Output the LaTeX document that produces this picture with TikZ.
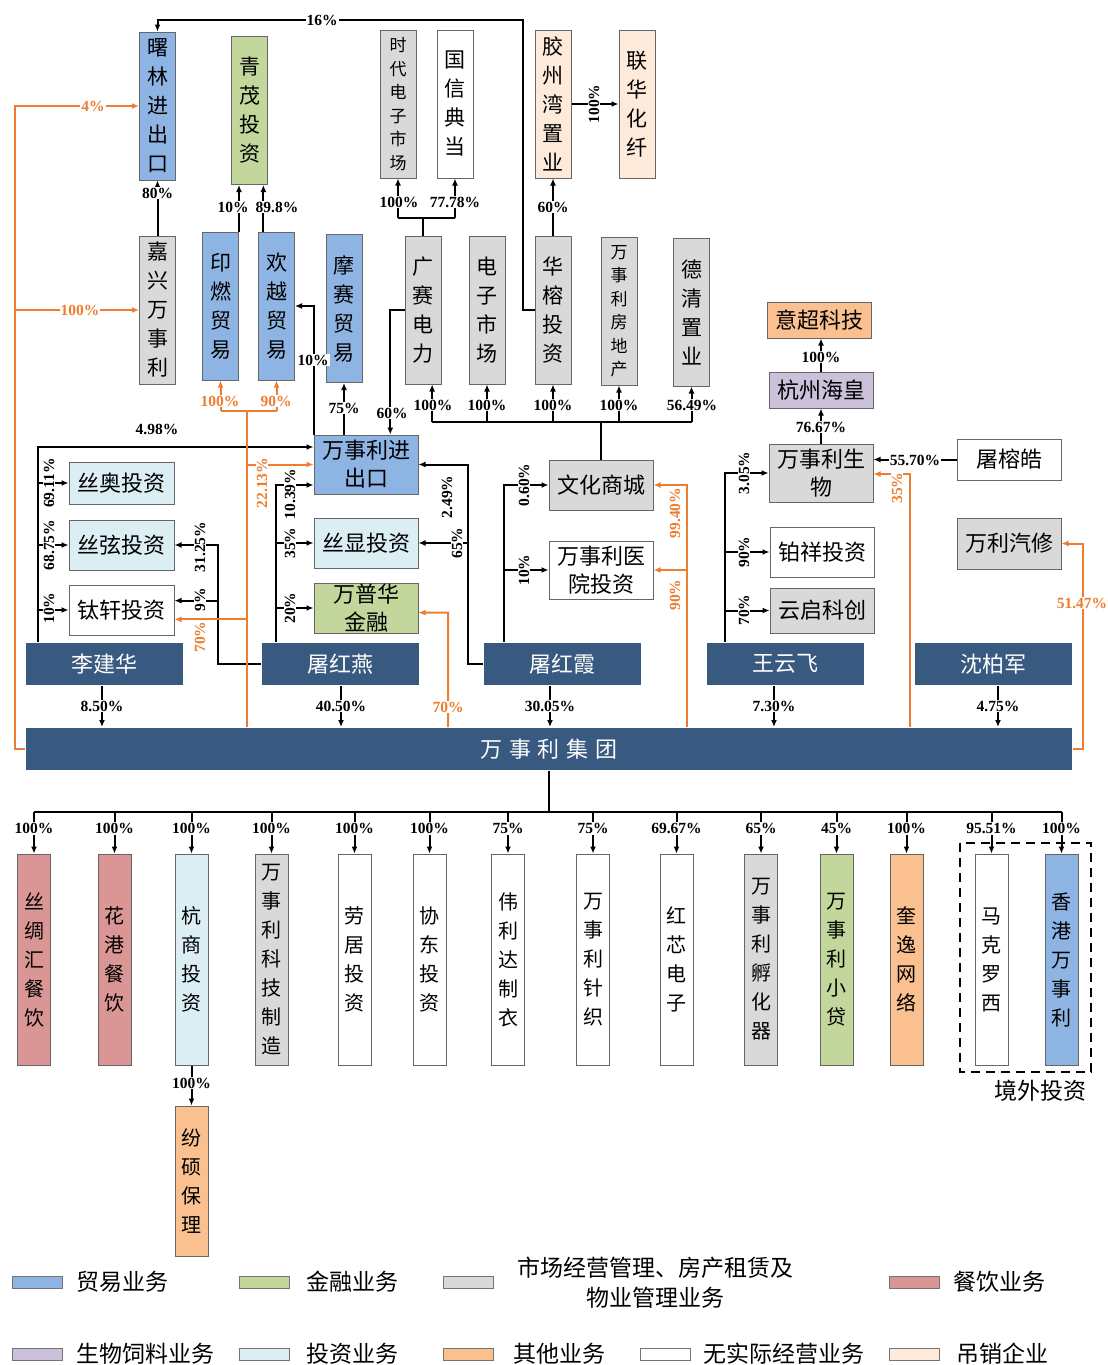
\documentclass[tikz,border=0pt]{standalone}
\usepackage{fontspec}
\setmainfont{Liberation Serif}
\newfontfamily\cjk{Noto Sans CJK SC}
\usetikzlibrary{arrows.meta}

\definecolor{trade}{HTML}{8EB4E3}
\definecolor{finance}{HTML}{C3D69B}
\definecolor{estate}{HTML}{D9D9D9}
\definecolor{catering}{HTML}{D99694}
\definecolor{bio}{HTML}{CCC1DA}
\definecolor{invest}{HTML}{DBEEF4}
\definecolor{other}{HTML}{FAC090}
\definecolor{revoked}{HTML}{FDEADA}
\definecolor{navy}{HTML}{395A80}
\definecolor{stake}{HTML}{ED7D31}

\begin{document}
\begin{tikzpicture}[x=1pt, y=-1pt, line width=2pt,
    >={Latex[length=7pt,width=6pt]},
    firm/.style={draw=black!60, line width=1pt, inner sep=0pt, align=center,
                 font=\cjk\fontsize{22}{28}\selectfont},
    vfirm/.style={firm, minimum width=36pt, minimum height=148pt,
                  font=\cjk\fontsize{21}{29}\selectfont},
    vsmall/.style={vfirm, font=\cjk\fontsize{17}{23.5}\selectfont},
    hfirm/.style={firm, minimum width=104pt},
    low/.style={firm, minimum width=33pt, minimum height=211pt,
                font=\cjk\fontsize{20}{29}\selectfont},
    person/.style={fill=navy, text=white, inner sep=0pt, minimum width=157pt,
                   minimum height=42pt, font=\cjk\fontsize{22}{22}\selectfont},
    pct/.style={fill=white, inner sep=1pt, font=\bfseries\fontsize{15.5}{15.5}\selectfont},
    opct/.style={pct, text=stake},
    hold/.style={->, draw=stake},
    legsw/.style={draw=black!55, line width=1pt, minimum width=50pt,
                  minimum height=12pt, inner sep=0pt},
    legtx/.style={inner sep=0pt, align=center, font=\cjk\fontsize{23}{30}\selectfont}]

    \useasboundingbox (0,0) rectangle (1108,1365);

    % bends and feet
    \coordinate (c16) at (523,20);
    \coordinate (gb)  at (423,218);
    \coordinate (wb)  at (601,422);
    \coordinate (lj)  at (38,447);
    \coordinate (ty1) at (218,545);
    \coordinate (ty2) at (276,485);
    \coordinate (tx1) at (468,464.5);
    \coordinate (tx2) at (504,485);
    \coordinate (wy)  at (725,473);
    \coordinate (o1)  at (247,411);
    \coordinate (o2)  at (687,485);
    \coordinate (o3)  at (448,612.5);
    \coordinate (o4)  at (910,474);
    \coordinate (o5)  at (1083,543.5);
    \coordinate (o6)  at (15,106);
    \coordinate (d1)  at (102,706);
    \coordinate (d2)  at (341,706);
    \coordinate (d3)  at (550,706);
    \coordinate (d4)  at (774,706);
    \coordinate (d5)  at (998,706);
    \coordinate (bus) at (549,812);

    % top rows
    \node[vfirm, fill=trade]   (shulin)   at (157.5,106) {曙\\林\\进\\出\\口};
    \node[vfirm, fill=finance] (qingmao)  at (249.5,110.5) {青\\茂\\投\\资};
    \node[vsmall, fill=estate] (shidai)   at (398,104) {时\\代\\电\\子\\市\\场};
    \node[vfirm, fill=white]   (guoxin)   at (455,104) {国\\信\\典\\当};
    \node[vfirm, fill=revoked] (jiaozhou) at (553,104) {胶\\州\\湾\\置\\业};
    \node[vfirm, fill=revoked] (lianhua)  at (637,104) {联\\华\\化\\纤};

    \node[vfirm, fill=estate]  (jiaxing)    at (157.5,310) {嘉\\兴\\万\\事\\利};
    \node[vfirm, fill=trade]   (yinran)     at (220.5,306) {印\\燃\\贸\\易};
    \node[vfirm, fill=trade]   (huanyue)    at (276.5,306) {欢\\越\\贸\\易};
    \node[vfirm, fill=trade]   (mosai)      at (344,308.5) {摩\\赛\\贸\\易};
    \node[vfirm, fill=estate]  (guangsai)   at (423,310) {广\\赛\\电\\力};
    \node[vfirm, fill=estate]  (dianzi)     at (487,310) {电\\子\\市\\场};
    \node[vfirm, fill=estate]  (huarong)    at (553,310) {华\\榕\\投\\资};
    \node[vsmall, fill=estate] (fangdichan) at (619,311) {万\\事\\利\\房\\地\\产};
    \node[vfirm, fill=estate]  (deqing)     at (691.5,312) {德\\清\\置\\业};

    % right column
    \node[hfirm, fill=other, minimum height=36pt]   (yichao)    at (819.5,320) {意超科技};
    \node[hfirm, fill=bio, minimum height=36pt]     (haihuang)  at (821,390) {杭州海皇};
    \node[hfirm, fill=estate, minimum height=58pt]  (shengwu)   at (821,473) {万事利生\\物};
    \node[hfirm, fill=white, minimum height=41pt]   (turonghao) at (1009,459.5) {屠榕皓};
    \node[hfirm, fill=white, minimum height=50pt]   (boxiang)   at (822,552) {铂祥投资};
    \node[hfirm, fill=estate, minimum height=45pt]  (yunqi)     at (822,610.5) {云启科创};
    \node[hfirm, fill=estate, minimum height=51pt]  (wanli)     at (1009,543.5) {万利汽修};

    % middle
    \node[hfirm, fill=trade, minimum height=59pt]   (jck)      at (366,464.5) {万事利进\\出口};
    \node[hfirm, fill=invest, minimum height=42pt, minimum width=105pt] (siao)    at (121.5,483) {丝奥投资};
    \node[hfirm, fill=invest, minimum height=50pt, minimum width=105pt] (sixian)  at (121.5,545) {丝弦投资};
    \node[hfirm, fill=white, minimum height=50pt, minimum width=105pt]  (taixuan) at (121.5,610) {钛轩投资};
    \node[hfirm, fill=invest, minimum height=50pt]  (sixianB)  at (366,543) {丝显投资};
    \node[hfirm, fill=finance, minimum height=50pt] (wanpuhua) at (366,608) {万普华\\金融};
    \node[hfirm, fill=estate, minimum height=50pt]  (wenhua)   at (601,485) {文化商城};
    \node[hfirm, fill=white, minimum height=58pt]   (yiyuan)   at (601,570) {万事利医\\院投资};

    % shareholders
    \node[person] (lijianhua)  at (104.5,664) {李建华};
    \node[person] (tuhongyan)  at (340.5,664) {屠红燕};
    \node[person] (tuhongxia)  at (562.5,664) {屠红霞};
    \node[person] (wangyunfei) at (785.5,664) {王云飞};
    \node[person] (shenbaijun) at (993.5,664) {沈柏军};
    \node[person, minimum width=1046pt] (group) at (549,749)
        {万\hspace{7pt}事\hspace{7pt}利\hspace{7pt}集\hspace{7pt}团};

    % subsidiaries of the group
    \draw[dashed, dash pattern=on 9pt off 6pt] (960,843) rectangle (1091,1072);
    \foreach \n/\x/\col/\pc/\txt in {
        sichou/34/catering/100\%/{丝\\绸\\汇\\餐\\饮},
        huagang/114.5/catering/100\%/{花\\港\\餐\\饮},
        hangshang/191.5/invest/100\%/{杭\\商\\投\\资},
        keji/271.5/estate/100\%/{万\\事\\利\\科\\技\\制\\造},
        laoju/354.5/white/100\%/{劳\\居\\投\\资},
        xiedong/429.5/white/100\%/{协\\东\\投\\资},
        weilida/508/white/75\%/{伟\\利\\达\\制\\衣},
        zhenzhi/593/white/75\%/{万\\事\\利\\针\\织},
        hongxin/676.5/white/69.67\%/{红\\芯\\电\\子},
        fuhuaqi/761/estate/65\%/{万\\事\\利\\孵\\化\\器},
        xiaodai/836.5/finance/45\%/{万\\事\\利\\小\\贷},
        kuiyi/906.5/other/100\%/{奎\\逸\\网\\络},
        makeluoxi/991.5/white/95.51\%/{马\\克\\罗\\西},
        xianggang/1061.5/trade/100\%/{香\\港\\万\\事\\利}}
    {
        \node[low, fill=\col] (\n) at (\x,959.5) {\txt};
        \draw[->] (\n.north |- bus) -- node[pct, pos=0.4] {\pc} (\n.north);
    }
    \node[low, fill=other, minimum height=150pt] (fenshuo) at (191.5,1181) {纷\\硕\\保\\理};
    \node[legtx] (jingwai) at (1040,1091) {境外投资};

    % black holdings
    \draw[->] (huarong.west) -| (c16) -| (shulin.north);
    \draw[->] (jiaxing.north) -- (shulin.south);
    \draw[->] (yinran.north east) -- (yinran.north east |- qingmao.south);
    \draw[->] (huanyue.100) -- (huanyue.100 |- qingmao.south);
    \draw (guangsai.north) -- (gb);
    \draw (shidai.south |- gb) -- (guoxin.south |- gb);
    \draw[->] (shidai.south |- gb) -- (shidai.south);
    \draw[->] (guoxin.south |- gb) -- (guoxin.south);
    \draw[->] (huarong.north) -- (jiaozhou.south);
    \draw[->] (jiaozhou.east) -- (lianhua.west);

    \draw (wenhua.north) -- (wb);
    \draw (guangsai.-83 |- wb) -- (deqing.south |- wb);
    \foreach \a in {guangsai.-83, dianzi.south, huarong.south, fangdichan.south, deqing.south}
        \draw[->] (\a |- wb) -- (\a);

    \draw[->] (jck.north -| mosai.south) -- (mosai.south);
    \draw[->] (jck.north west) |- (huanyue.east);
    \draw[->] (guangsai.west) -| (jck.51);

    \draw[->] (shengwu.north) -- (haihuang.south);
    \draw[->] (haihuang.north) -- (haihuang.north |- yichao.south);
    \draw[->] (turonghao.west) -- (turonghao.west -| shengwu.east);

    \draw[->] (lijianhua.north -| lj) -- (lj) -- (lj -| jck.west);
    \foreach \b in {siao, sixian, taixuan}
        \draw[->] (lj |- \b.west) -- (\b.west);

    \draw[->] (tuhongyan.west) -| (ty1) -- (sixian.east);
    \draw[->] (ty1 |- taixuan.10) -- (taixuan.10);
    \draw[->] (tuhongyan.north -| ty2) -- (ty2) -- (ty2 -| jck.west);
    \draw[->] (ty2 |- sixianB.west) -- (sixianB.west);
    \draw[->] (ty2 |- wanpuhua.west) -- (wanpuhua.west);

    \draw[->] (tuhongxia.west) -| (tx1) -- (jck.east);
    \draw[->] (tx1 |- sixianB.east) -- (sixianB.east);
    \draw[->] (tuhongxia.north -| tx2) -- (tx2) -- (wenhua.west);
    \draw[->] (tx2 |- yiyuan.west) -- (yiyuan.west);

    \draw[->] (wangyunfei.north -| wy) -- (wy) -- (shengwu.west);
    \draw[->] (wy |- boxiang.west) -- (boxiang.west);
    \draw[->] (wy |- yunqi.west) -- (yunqi.west);

    \draw[->] (lijianhua.south -| d1)  -- (group.north -| d1);
    \draw[->] (tuhongyan.south -| d2)  -- (group.north -| d2);
    \draw[->] (tuhongxia.south -| d3)  -- (group.north -| d3);
    \draw[->] (wangyunfei.south -| d4) -- (group.north -| d4);
    \draw[->] (shenbaijun.south -| d5) -- (group.north -| d5);

    \draw (group.south) -- (bus);
    \draw (sichou.north |- bus) -- (xianggang.north |- bus);
    \draw[->] (hangshang.south) -- (fenshuo.north);

    % orange holdings
    \draw[hold] (group.west) -| (o6) -- (shulin.west);
    \draw[hold] (o6 |- jiaxing.west) -- (jiaxing.west);
    \draw[stake] (group.north -| o1) -- (o1);
    \draw[stake] (yinran.south |- o1) -- (huanyue.south |- o1);
    \draw[hold] (yinran.south |- o1) -- (yinran.south);
    \draw[hold] (huanyue.south |- o1) -- (huanyue.south);
    \draw[hold] (o1 |- jck.west) -- (jck.west);
    \draw[hold] (o1 |- taixuan.-10) -- (taixuan.-10);
    \draw[hold] (group.north -| o3) -- (o3) -- (wanpuhua.-5);
    \draw[hold] (group.north -| o2) -- (o2) -- (wenhua.east);
    \draw[hold] (o2 |- yiyuan.east) -- (yiyuan.east);
    \draw[hold] (group.north -| o4) -- (o4) -- (o4 -| shengwu.east);
    \draw[hold] (group.east) -| (o5) -- (wanli.east);

    % black labels
    \node[pct] at (322,20) {16\%};
    \node[pct] at (157.5,193) {80\%};
    \node[pct] at (233,207) {10\%};
    \node[pct] at (277,207) {89.8\%};
    \node[pct] at (399,202) {100\%};
    \node[pct] at (455,202) {77.78\%};
    \node[pct] at (553,207) {60\%};
    \node[pct, rotate=90] at (594,104) {100\%};
    \node[pct] at (344,408) {75\%};
    \node[pct] at (313,360) {10\%};
    \node[pct] at (392,413) {60\%};
    \node[pct] at (433,405) {100\%};
    \node[pct] at (487,405) {100\%};
    \node[pct] at (553,405) {100\%};
    \node[pct] at (619,405) {100\%};
    \node[pct] at (692,405) {56.49\%};
    \node[pct] at (821,357) {100\%};
    \node[pct] at (821,427) {76.67\%};
    \node[pct] at (915,460) {55.70\%};
    \node[pct] at (157,429) {4.98\%};
    \node[pct, rotate=90] at (49,483) {69.11\%};
    \node[pct, rotate=90] at (49,545) {68.75\%};
    \node[pct, rotate=90] at (49,608) {10\%};
    \node[pct, rotate=90] at (200,547) {31.25\%};
    \node[pct, rotate=90] at (200,600) {9\%};
    \node[pct, rotate=90] at (290,494) {10.39\%};
    \node[pct, rotate=90] at (290,543) {35\%};
    \node[pct, rotate=90] at (290,608) {20\%};
    \node[pct, rotate=90] at (447,497) {2.49\%};
    \node[pct, rotate=90] at (457,543) {65\%};
    \node[pct, rotate=90] at (524,485) {0.60\%};
    \node[pct, rotate=90] at (524,570) {10\%};
    \node[pct, rotate=90] at (744,473) {3.05\%};
    \node[pct, rotate=90] at (744,552) {90\%};
    \node[pct, rotate=90] at (744,610) {70\%};
    \node[pct] at (d1) {8.50\%};
    \node[pct] at (d2) {40.50\%};
    \node[pct] at (d3) {30.05\%};
    \node[pct] at (d4) {7.30\%};
    \node[pct] at (d5) {4.75\%};
    \node[pct] at (191.5,1083) {100\%};

    % orange labels
    \node[opct] at (93,106) {4\%};
    \node[opct] at (80,310) {100\%};
    \node[opct] at (220,401) {100\%};
    \node[opct] at (276,401) {90\%};
    \node[opct, rotate=90] at (262,483) {22.13\%};
    \node[opct, rotate=90] at (200,637) {70\%};
    \node[opct] at (448,707) {70\%};
    \node[opct, rotate=90] at (675,513) {99.40\%};
    \node[opct, rotate=90] at (675,595) {90\%};
    \node[opct, rotate=90] at (897,488) {35\%};
    \node[opct] at (1082,603) {51.47\%};

    % legend
    \foreach \col/\x/\y in {trade/37/1282, finance/264/1282, estate/468/1282,
        catering/914/1282, bio/37/1354, invest/264/1354, other/468/1354,
        white/665/1354, revoked/914/1354}
        \node[legsw, fill=\col] (sw-\col) at (\x,\y) {};
    \node[legtx, anchor=west] (lg1) at (75,1282)  {贸易业务};
    \node[legtx, anchor=west] (lg2) at (305,1282) {金融业务};
    \node[legtx]              (lg3) at (655,1283) {市场经营管理、房产租赁及\\物业管理业务};
    \node[legtx, anchor=west] (lg4) at (952,1282) {餐饮业务};
    \node[legtx, anchor=west] (lg5) at (75,1354)  {生物饲料业务};
    \node[legtx, anchor=west] (lg6) at (305,1354) {投资业务};
    \node[legtx, anchor=west] (lg7) at (512,1354) {其他业务};
    \node[legtx, anchor=west] (lg8) at (702,1354) {无实际经营业务};
    \node[legtx, anchor=west] (lg9) at (955,1354) {吊销企业};

\end{tikzpicture}
\end{document}
